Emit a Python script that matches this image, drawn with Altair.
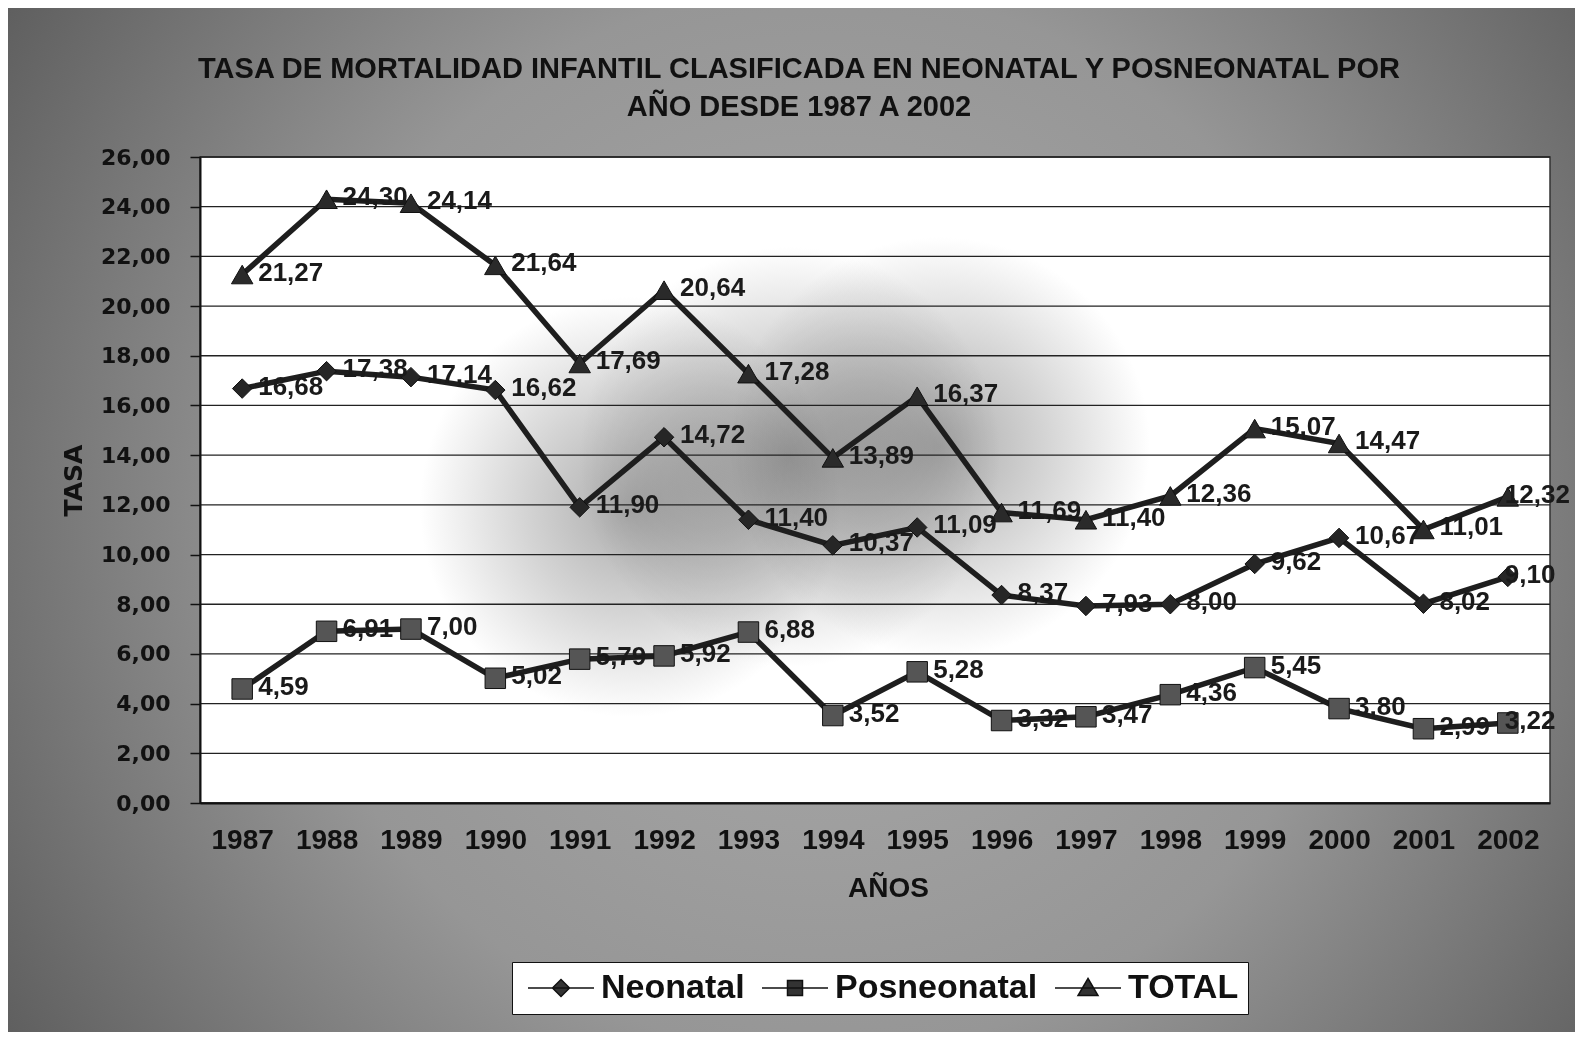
import altair as alt
import pandas as pd

years = [str(y) for y in range(1987, 2003)]
series = ["Neonatal", "Posneonatal", "TOTAL"]
neonatal = [16.68, 17.38, 17.14, 16.62, 11.90, 14.72, 11.40, 10.37, 11.09, 8.37, 7.93, 8.00, 9.62, 10.67, 8.02, 9.10]
posneonatal = [4.59, 6.91, 7.00, 5.02, 5.79, 5.92, 6.88, 3.52, 5.28, 3.32, 3.47, 4.36, 5.45, 3.80, 2.99, 3.22]
total = [21.27, 24.30, 24.14, 21.64, 17.69, 20.64, 17.28, 13.89, 16.37, 11.69, 11.40, 12.36, 15.07, 14.47, 11.01, 12.32]
y_ticks = list(range(0, 27, 2))
title_lines = ["TASA DE MORTALIDAD INFANTIL CLASIFICADA EN NEONATAL Y POSNEONATAL POR",
               "AÑO DESDE 1987 A 2002"]

W, H = 1350, 646
PL, PT, PR, PB = 192, 149, 25, 229

rows = []
for s, vals in zip(series, [neonatal, posneonatal, total]):
    for yr, v in zip(years, vals):
        rows.append({"year": yr, "serie": s, "value": v})
df = pd.DataFrame(rows)
grid_df = pd.DataFrame({"value": y_ticks})
one = pd.DataFrame({"k": [0]})

SANS = "Liberation Sans, Arial"
WIDE = "DejaVu Sans"

x_enc = alt.X("year:O", scale=alt.Scale(type="point", domain=years, padding=0.5),
              axis=alt.Axis(title="AÑOS", labelAngle=0, ticks=False, labelPadding=37,
                            labelBaseline="middle", labelFont=SANS, labelFontSize=28,
                            labelFontWeight="bold", labelColor="#111",
                            titleFont=SANS, titleFontSize=28,
                            titleFontWeight="bold", titleColor="#111",
                            titleY=85, titleX=688, titleBaseline="middle",
                            domainColor="#111", domainWidth=2, zindex=1))
y_enc = alt.Y("value:Q", scale=alt.Scale(domain=[0, 26], nice=False),
              axis=alt.Axis(title="TASA", values=y_ticks, grid=False,
                            labelExpr="replace(format(datum.value, '.2f'), '.', ',')",
                            tickSize=10, tickColor="#111", tickWidth=1.5, labelPadding=20,
                            labelFont=WIDE, labelFontSize=22, labelFontWeight="bold",
                            labelColor="#111", titleFont=WIDE, titleFontSize=25,
                            titleFontWeight="bold", titleColor="#111",
                            titleX=-127, titleBaseline="middle",
                            domainColor="#111", domainWidth=2, zindex=1))

bg_grad = alt.RadialGradient(gradient="radial", x1=0.52, y1=0.5, r1=0, x2=0.52, y2=0.5, r2=0.62,
                             stops=[alt.GradientStop(offset=0, color="#ababab"),
                                    alt.GradientStop(offset=0.55, color="#969696"),
                                    alt.GradientStop(offset=1, color="#5e5e5e")])
smudge_grad = alt.RadialGradient(gradient="radial", x1=0.5, y1=0.5, r1=0, x2=0.5, y2=0.5, r2=0.5,
                                 stops=[alt.GradientStop(offset=0, color="#acacac"),
                                        alt.GradientStop(offset=0.5, color="#d4d4d4"),
                                        alt.GradientStop(offset=1, color="#ffffff")])

bg = alt.Chart(one).mark_rect(fill=bg_grad).encode(
    x=alt.value(-PL), x2=alt.value(W + PR), y=alt.value(-PT), y2=alt.value(H + PB))
plot_bg = alt.Chart(one).mark_rect(fill="white", stroke="#333", strokeWidth=1.5).encode(
    x=alt.value(0), x2=alt.value(W), y=alt.value(0), y2=alt.value(H))

smudges = []
for cx, cy in [(430, 350), (590, 300), (740, 290)]:
    smudges.append(alt.Chart(one).mark_rect(fill=smudge_grad, blend="multiply").encode(
        x=alt.value(cx - 210), x2=alt.value(cx + 210), y=alt.value(cy - 210), y2=alt.value(cy + 210)))

title_marks = []
for i, line in enumerate(title_lines):
    title_marks.append(alt.Chart(one).mark_text(
        text=line, align="center", baseline="middle", font=SANS, fontSize=29,
        fontWeight="bold", color="#111").encode(x=alt.value(599), y=alt.value(-88 + 38 * i)))

grid = alt.Chart(grid_df).mark_rule(color="#222", strokeWidth=1.3).encode(y=y_enc)

lines = alt.Chart(df).mark_line(color="#1e1e1e", strokeWidth=5.5).encode(
    x=x_enc, y=y_enc, detail="serie:N")

points = alt.Chart(df).mark_point(filled=True, stroke="#111", strokeWidth=1, opacity=1).encode(
    x=x_enc, y=y_enc,
    shape=alt.Shape("serie:N", scale=alt.Scale(domain=series, range=["diamond", "square", "triangle-up"]), legend=None),
    size=alt.Size("serie:N", scale=alt.Scale(domain=series, range=[380, 460, 580]), legend=None),
    fill=alt.Fill("serie:N", scale=alt.Scale(domain=series, range=["#262626", "#555555", "#2a2a2a"]), legend=None),
)

label_base = alt.Chart(df).transform_calculate(
    label="replace(format(datum.value, '.2f'), '.', ',')")
label_style = dict(align="left", baseline="middle", dy=-2, font=SANS,
                   fontSize=26, fontWeight="bold", color="#1a1a1a")
labels = label_base.transform_filter("datum.year != '2002'").mark_text(dx=16, **label_style).encode(
    x=x_enc, y=y_enc, text="label:N")
labels_last = label_base.transform_filter("datum.year == '2002'").mark_text(dx=-3, **label_style).encode(
    x=x_enc, y=y_enc, text="label:N")

leg_paths = [
    "M-1,0H5.6M2.3,-0.85L3.15,0L2.3,0.85L1.45,0Z",
    "M-1,0H5.6M1.55,-0.75H3.05V0.75H1.55Z",
    "M-1,0H5.6M2.3,-0.95L3.3,0.75H1.3Z",
]
legend_layer = alt.Chart(df).transform_filter("false").mark_point(
    filled=True, fill="#333333", stroke="#111111", strokeWidth=4.5, size=400, opacity=1
).encode(
    x=x_enc, y=y_enc,
    shape=alt.Shape("serie:N", scale=alt.Scale(domain=series, range=leg_paths),
                    legend=alt.Legend(orient="none", legendX=312, legendY=805,
                                      direction="horizontal", title=None,
                                      fillColor="white", strokeColor="#111",
                                      padding=9, columnPadding=10, labelOffset=46,
                                      symbolSize=400, labelFont=SANS, labelFontSize=34,
                                      labelFontWeight="bold", labelColor="#111",
                                      labelLimit=500)),
)

chart = alt.layer(bg, plot_bg, *smudges, grid, lines, points, labels, labels_last,
                  legend_layer, *title_marks).resolve_scale(
    shape="independent", size="independent", fill="independent"
).properties(
    width=W, height=H,
    padding={"left": PL, "top": PT, "right": PR, "bottom": PB},
    autosize=alt.AutoSizeParams(type="none"),
    background="#8f8f8f",
).configure_view(stroke=None)

chart.save("out.html", embed_options={"renderer": "svg", "actions": False})
